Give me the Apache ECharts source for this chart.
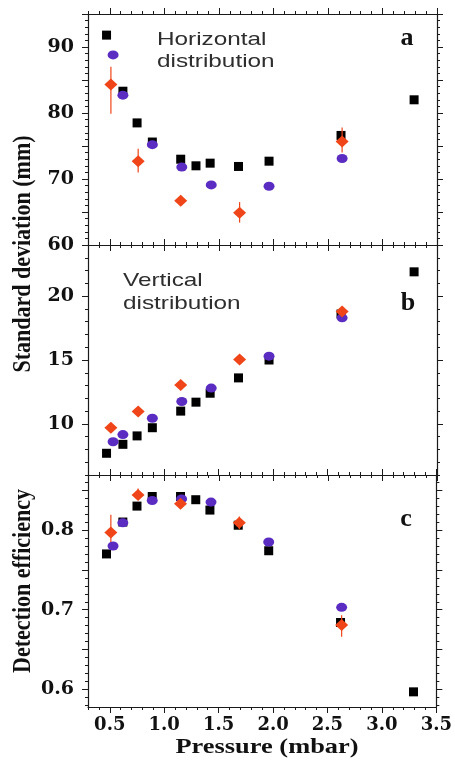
<!DOCTYPE html>
<html>
<head>
<meta charset="utf-8">
<script src="https://cdn.jsdelivr.net/npm/echarts@6/dist/echarts.min.js"></script>
<style>
html,body{margin:0;padding:0;background:#fff}
#chart{width:455px;height:760px}
</style>
</head>
<body>
<div id="chart"></div>
<script>
// Pressure (mbar) for the three measurement sets
const pSquare  = [0.47, 0.62, 0.75, 0.89, 1.15, 1.29, 1.42, 1.68, 1.96, 2.62, 3.29];
const pCircle  = [0.53, 0.62, 0.89, 1.16, 1.43, 1.96, 2.63];
const pDiamond = [0.51, 0.76, 1.15, 1.69, 2.63];

// (a) horizontal distribution, standard deviation (mm)
const hSquare  = [91.8, 83.3, 78.5, 75.6, 73.0, 72.0, 72.4, 71.9, 72.7, 76.6, 82.0];
const hCircle  = [88.8, 82.7, 75.2, 71.8, 69.1, 68.9, 73.1];
const hDiamond = [84.3, 72.7, 66.7, 64.9, 75.7];
const hDiamondLow  = [79.9, 71.0, 65.9, 63.4, 74.0];
const hDiamondHigh = [87.0, 74.6, 67.5, 66.5, 77.8];

// (b) vertical distribution, standard deviation (mm)
const vSquare  = [7.7, 8.4, 9.06, 9.7, 11.0, 11.7, 12.4, 13.6, 15.0, 18.6, 21.9];
const vCircle  = [8.6, 9.16, 10.44, 11.75, 12.8, 15.3, 18.3];
const vDiamond = [9.7, 10.96, 13.05, 15.04, 18.8];

// (c) detection efficiency
const eSquare  = [0.770, 0.810, 0.830, 0.842, 0.842, 0.838, 0.825, 0.806, 0.774, 0.684, 0.597];
const eCircle  = [0.780, 0.809, 0.837, 0.839, 0.835, 0.785, 0.703];
const eDiamond = [0.797, 0.844, 0.833, 0.809, 0.681];
const eDiamondLow  = [0.785, 0.838, 0.829, 0.801, 0.666];
const eDiamondHigh = [0.819, 0.852, 0.838, 0.817, 0.693];

// Axis ranges and tick positions
const xRange = [0.3, 3.5];
const xMajor = [0.5, 1.0, 1.5, 2.0, 2.5, 3.0, 3.5];
const aRange = [60, 95];
const aMajor = [60, 65, 70, 75, 80, 85, 90, 95];
const aLabels = [60, 70, 80, 90];
const bRange = [6, 24];
const bMajor = [10, 15, 20];
const bLabels = [10, 15, 20];
const cRange = [0.578, 0.869];
const cMajor = [0.6, 0.65, 0.7, 0.75, 0.8, 0.85];
const cLabels = [0.6, 0.7, 0.8];

function steps(a, b, step, dec) {
  const out = [];
  for (let v = a; v <= b + step / 2; v += step) out.push(+v.toFixed(dec));
  return out;
}
const xMinor = steps(0.3, 3.5, 0.1, 2);
const aMinor = steps(60, 95, 1, 0);
const bMinor = steps(6, 24, 1, 0);
const cMinor = steps(0.58, 0.86, 0.01, 3);

const INK = '#1a1a1a';
const PURPLE = '#5a2cc2';
const RED = '#ef4518';
const tickFont = { fontFamily: 'DejaVu Serif', fontWeight: 'bold', color: '#111' };

const grids = [
  { left: 88, right: 18, top: 14,  height: 231 },
  { left: 88, right: 18, top: 245, height: 230 },
  { left: 88, right: 18, top: 475, height: 232 }
];

const lineStyle = { color: INK, width: 1.2 };

function axisPair(gi, range, major, minor, position, labels, fmt, fontSize, margin) {
  const base = {
    type: 'value', gridIndex: gi, min: range[0], max: range[1], position,
    splitLine: { show: false }
  };
  const main = Object.assign({}, base, {
    axisLine: { show: true, onZero: false, lineStyle },
    axisTick: { show: true, inside: false, length: 6, customValues: major, lineStyle: { color: INK, width: 1 } },
    axisLabel: labels ? Object.assign({
      show: true, customValues: labels, formatter: fmt, fontSize, margin
    }, tickFont) : { show: false }
  });
  const minorAxis = Object.assign({}, base, {
    axisLine: { show: false },
    axisTick: { show: true, inside: false, length: 3, customValues: minor, lineStyle: { color: INK, width: 1 } },
    axisLabel: { show: false }
  });
  return [main, minorAxis];
}

const xAxis = [], yAxis = [];
const yInfo = [
  [aRange, aMajor, aMinor, aLabels, v => String(v)],
  [bRange, bMajor, bMinor, bLabels, v => String(v)],
  [cRange, cMajor, cMinor, cLabels, v => v.toFixed(1)]
];
grids.forEach((g, gi) => {
  // x axes: bottom (main, minor), top (main, minor)
  xAxis.push(...axisPair(gi, xRange, xMajor, xMinor, 'bottom',
    gi === 2 ? xMajor : null, v => v.toFixed(1), 18, 9));
  xAxis.push(...axisPair(gi, xRange, xMajor, xMinor, 'top', null));
  const [r, mj, mn, lb, f] = yInfo[gi];
  yAxis.push(...axisPair(gi, r, mj, mn, 'left', lb, f, 19, 14));
  yAxis.push(...axisPair(gi, r, mj, mn, 'right', null));
});

function pts(xs, ys) { return xs.map((x, i) => [x, ys[i]]); }

function panelSeries(gi, sq, ci, di, lo, hi) {
  const idx = { xAxisIndex: gi * 4, yAxisIndex: gi * 4 };
  const s = [
    Object.assign({ type: 'scatter', data: pts(pSquare, sq), symbol: 'rect', symbolSize: [9, 9],
      itemStyle: { color: '#000', opacity: 1 }, z: 2, silent: true }, idx),
    Object.assign({ type: 'scatter', data: pts(pCircle, ci), symbol: 'circle', symbolSize: [11, 9],
      itemStyle: { color: PURPLE, opacity: 1 }, z: 3, silent: true }, idx)
  ];
  if (lo) {
    s.push(Object.assign({
      type: 'custom', z: 4, silent: true,
      data: pDiamond.map((p, i) => [p, lo[i], hi[i]]),
      encode: { x: 0, y: [1, 2] },
      renderItem: (params, api) => {
        const a = api.coord([api.value(0), api.value(1)]);
        const b = api.coord([api.value(0), api.value(2)]);
        return { type: 'line', shape: { x1: a[0], y1: a[1], x2: b[0], y2: b[1] },
          style: { stroke: RED, lineWidth: 1.2 } };
      }
    }, idx));
  }
  s.push(Object.assign({ type: 'scatter', data: pts(pDiamond, di), symbol: 'diamond', symbolSize: [13, 12],
    itemStyle: { color: RED, opacity: 1 }, z: 5, silent: true }, idx));
  return s;
}

const series = [
  ...panelSeries(0, hSquare, hCircle, hDiamond, hDiamondLow, hDiamondHigh),
  ...panelSeries(1, vSquare, vCircle, vDiamond, null, null),
  ...panelSeries(2, eSquare, eCircle, eDiamond, eDiamondLow, eDiamondHigh)
];

const sansNote = { fontFamily: 'Liberation Sans', fontSize: 19, fill: '#2e2e2e', textAlign: 'left', textVerticalAlign: 'middle' };
const serifTitle = { fontFamily: 'Liberation Serif', fontWeight: 'bold', fontSize: 22, fill: '#111', textAlign: 'center', textVerticalAlign: 'middle' };
const letter = { fontFamily: 'Liberation Serif', fontWeight: 'bold', fontSize: 26, fill: '#111', textAlign: 'center', textVerticalAlign: 'middle' };

const graphic = [
  { type: 'text', x: 157, y: 40, scaleX: 1.28, style: Object.assign({ text: 'Horizontal' }, sansNote) },
  { type: 'text', x: 157, y: 62, scaleX: 1.28, style: Object.assign({ text: 'distribution' }, sansNote) },
  { type: 'text', x: 123, y: 281, scaleX: 1.28, style: Object.assign({ text: 'Vertical' }, sansNote) },
  { type: 'text', x: 123, y: 304, scaleX: 1.28, style: Object.assign({ text: 'distribution' }, sansNote) },
  { type: 'text', x: 407, y: 38, style: Object.assign({ text: 'a' }, letter) },
  { type: 'text', x: 408, y: 303, style: Object.assign({ text: 'b' }, letter) },
  { type: 'text', x: 406, y: 519, style: Object.assign({ text: 'c' }, letter) },
  { type: 'text', x: 23, y: 254, rotation: Math.PI / 2, scaleY: 1.15,
    style: Object.assign({ text: 'Standard deviation (mm)' }, serifTitle) },
  { type: 'text', x: 23, y: 581, rotation: Math.PI / 2, scaleY: 1.15,
    style: Object.assign({ text: 'Detection efficiency' }, serifTitle) },
  { type: 'text', x: 267, y: 747, scaleX: 1.2,
    style: Object.assign({ text: 'Pressure (mbar)' }, serifTitle) }
];

const chart = echarts.init(document.getElementById('chart'), null, { renderer: 'canvas' });
chart.setOption({
  animation: false,
  backgroundColor: '#fff',
  grid: grids,
  xAxis, yAxis, series, graphic
});
</script>
</body>
</html>
